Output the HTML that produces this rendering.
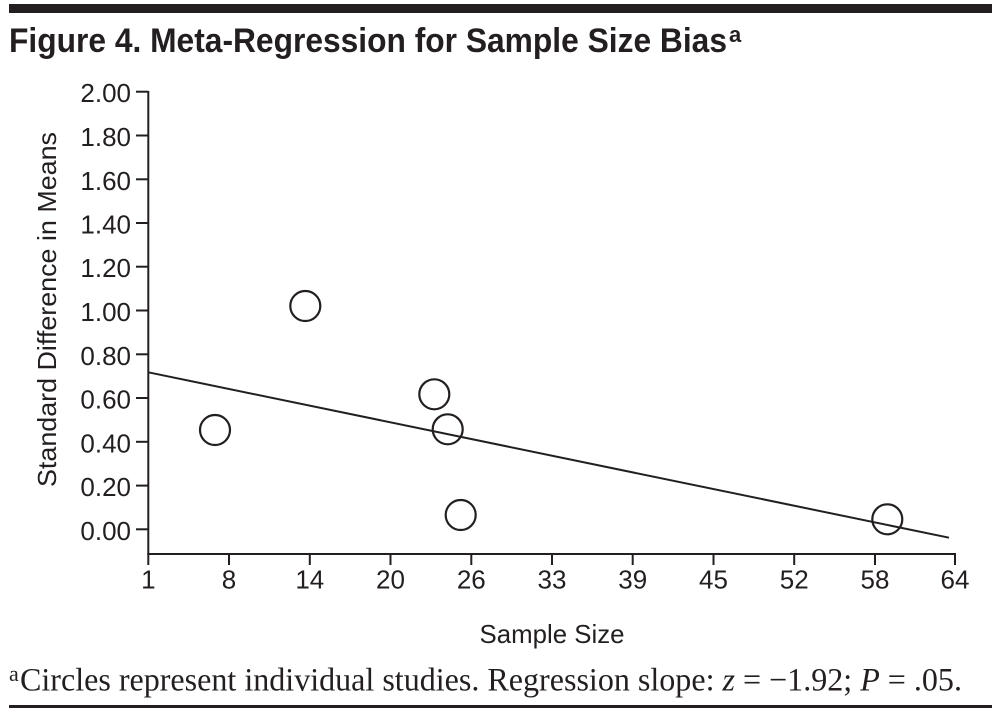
<!DOCTYPE html>
<html>
<head>
<meta charset="utf-8">
<style>
  html, body { margin: 0; padding: 0; background: #ffffff; }
  body { width: 1002px; height: 711px; overflow: hidden; }
  svg { display: block; }
  .sans { font-family: "Liberation Sans", "DejaVu Sans", sans-serif; fill: #231f20; }
  .serif { font-family: "Liberation Serif", "DejaVu Serif", serif; fill: #231f20; }
</style>
</head>
<body>
<svg width="1002" height="711" viewBox="0 0 1002 711" xmlns="http://www.w3.org/2000/svg">
  <!-- top bar -->
  <rect x="9" y="4" width="983" height="9" fill="#231f20"/>

  <!-- title -->
  <text class="sans" x="9" y="52" font-size="34" font-weight="bold" textLength="718" lengthAdjust="spacingAndGlyphs">Figure 4. Meta-Regression for Sample Size Bias</text>
  <text class="sans" x="729" y="42" font-size="22" font-weight="bold">a</text>

  <!-- axes -->
  <g stroke="#231f20" stroke-width="2" fill="none">
    <line x1="148.3" y1="91" x2="148.3" y2="565"/>
    <line x1="147.3" y1="554" x2="956" y2="554"/>
    <!-- y ticks -->
    <line x1="136" y1="91.7" x2="148.3" y2="91.7"/>
    <line x1="136" y1="135.5" x2="148.3" y2="135.5"/>
    <line x1="136" y1="179.3" x2="148.3" y2="179.3"/>
    <line x1="136" y1="223.0" x2="148.3" y2="223.0"/>
    <line x1="136" y1="266.7" x2="148.3" y2="266.7"/>
    <line x1="136" y1="310.5" x2="148.3" y2="310.5"/>
    <line x1="136" y1="354.3" x2="148.3" y2="354.3"/>
    <line x1="136" y1="398.0" x2="148.3" y2="398.0"/>
    <line x1="136" y1="441.8" x2="148.3" y2="441.8"/>
    <line x1="136" y1="485.6" x2="148.3" y2="485.6"/>
    <line x1="136" y1="529.3" x2="148.3" y2="529.3"/>
    <!-- x ticks -->
    <line x1="229.0" y1="554" x2="229.0" y2="565"/>
    <line x1="309.8" y1="554" x2="309.8" y2="565"/>
    <line x1="390.5" y1="554" x2="390.5" y2="565"/>
    <line x1="471.3" y1="554" x2="471.3" y2="565"/>
    <line x1="552.0" y1="554" x2="552.0" y2="565"/>
    <line x1="632.7" y1="554" x2="632.7" y2="565"/>
    <line x1="713.5" y1="554" x2="713.5" y2="565"/>
    <line x1="794.2" y1="554" x2="794.2" y2="565"/>
    <line x1="875.0" y1="554" x2="875.0" y2="565"/>
    <line x1="955.0" y1="553" x2="955.0" y2="565"/>
  </g>

  <!-- y tick labels -->
  <g class="sans" font-size="26" text-anchor="end">
    <text x="131" y="102.2">2.00</text>
    <text x="131" y="146.0">1.80</text>
    <text x="131" y="189.8">1.60</text>
    <text x="131" y="233.5">1.40</text>
    <text x="131" y="277.2">1.20</text>
    <text x="131" y="321.0">1.00</text>
    <text x="131" y="364.8">0.80</text>
    <text x="131" y="408.5">0.60</text>
    <text x="131" y="452.3">0.40</text>
    <text x="131" y="496.1">0.20</text>
    <text x="131" y="539.8">0.00</text>
  </g>

  <!-- x tick labels -->
  <g class="sans" font-size="26" text-anchor="middle">
    <text x="148.3" y="588.5">1</text>
    <text x="229.0" y="588.5">8</text>
    <text x="309.8" y="588.5">14</text>
    <text x="390.5" y="588.5">20</text>
    <text x="471.3" y="588.5">26</text>
    <text x="552.0" y="588.5">33</text>
    <text x="632.7" y="588.5">39</text>
    <text x="713.5" y="588.5">45</text>
    <text x="794.2" y="588.5">52</text>
    <text x="875.0" y="588.5">58</text>
    <text x="955.0" y="588.5">64</text>
  </g>

  <!-- axis titles -->
  <text class="sans" x="552" y="643" font-size="26" text-anchor="middle" textLength="145" lengthAdjust="spacingAndGlyphs">Sample Size</text>
  <text class="sans" font-size="26" text-anchor="middle" transform="translate(56,309.5) rotate(-90)" textLength="355" lengthAdjust="spacingAndGlyphs">Standard Difference in Means</text>

  <!-- regression line -->
  <line x1="148.3" y1="372.3" x2="949" y2="537.7" stroke="#231f20" stroke-width="2"/>

  <!-- circles -->
  <g stroke="#231f20" stroke-width="2.2" fill="none">
    <circle cx="305.3" cy="306" r="15"/>
    <circle cx="215" cy="430" r="15"/>
    <circle cx="434.3" cy="394.3" r="15"/>
    <circle cx="447.7" cy="429.3" r="15"/>
    <circle cx="460.7" cy="515" r="15"/>
    <circle cx="887.3" cy="519.3" r="15"/>
  </g>

  <!-- footnote -->
  <text class="serif" x="9" y="681" font-size="22">a</text>
  <text class="serif" x="20" y="690.5" font-size="33" textLength="942" lengthAdjust="spacingAndGlyphs">Circles represent individual studies. Regression slope: <tspan font-style="italic">z</tspan> = −1.92; <tspan font-style="italic">P</tspan> = .05.</text>

  <!-- bottom rule -->
  <rect x="9" y="705" width="983" height="3" fill="#231f20"/>
</svg>
</body>
</html>
